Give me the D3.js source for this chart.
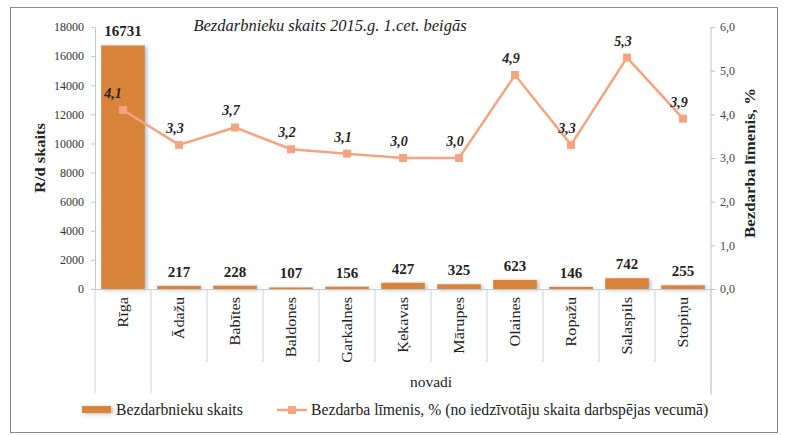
<!DOCTYPE html>
<html>
<head>
<meta charset="utf-8">
<script src="https://cdn.jsdelivr.net/npm/d3@7"></script>
<style>
  body { margin: 0; background: #fff; }
  text { font-family: "Liberation Serif", "Times New Roman", serif; }
</style>
</head>
<body>
<script>
const categories = ["Rīga", "Ādažu", "Babītes", "Baldones", "Garkalnes", "Ķekavas", "Mārupes", "Olaines", "Ropažu", "Salaspils", "Stopiņu"];
const unemployed = [16731, 217, 228, 107, 156, 427, 325, 623, 146, 742, 255];
const rate = [4.1, 3.3, 3.7, 3.2, 3.1, 3.0, 3.0, 4.9, 3.3, 5.3, 3.9];
const leftTicks = [0, 2000, 4000, 6000, 8000, 10000, 12000, 14000, 16000, 18000];
const rightTicks = [0, 1, 2, 3, 4, 5, 6];

const wSvg = 785, hSvg = 435;
const xLeft = 95, xRight = 711, yTop = 27, yBottom = 289;
const barColor = "#d9843a";
const lineColor = "#f4a47e";
const fmt = v => d3.format(".1f")(v).replace(".", ",");

let svg = d3.select("body").append("svg")
  .attr("width", wSvg)
  .attr("height", hSvg);

let defs = svg.append("defs");
let shadow = defs.append("filter").attr("id", "shadow")
  .attr("x", "-20%").attr("y", "-50%").attr("width", "150%").attr("height", "250%");
shadow.append("feDropShadow")
  .attr("dx", 2).attr("dy", 1).attr("stdDeviation", 2)
  .attr("flood-color", "#7f8fa0").attr("flood-opacity", 0.6);

// frame
svg.append("rect")
  .attr("x", 10.5).attr("y", 7.5)
  .attr("width", 767).attr("height", 425)
  .attr("fill", "#fff")
  .attr("stroke", "#8a8a8a");

let xScale = d3.scaleBand(categories, [xLeft, xRight]).paddingInner(0.22).paddingOuter(0.11);
let yScale = d3.scaleLinear([0, 18000], [yBottom, yTop]);
let y2Scale = d3.scaleLinear([0, 6], [yBottom, yTop]);
let step = xScale.step();

// title
svg.append("text")
  .attr("x", 330).attr("y", 31)
  .attr("text-anchor", "middle")
  .attr("font-size", "16.5px")
  .attr("font-style", "italic")
  .attr("fill", "#222")
  .text("Bezdarbnieku skaits 2015.g. 1.cet. beigās");

// left axis
let yAxis = svg.append("g")
  .attr("transform", `translate(${xLeft},0)`)
  .call(d3.axisLeft(yScale).tickValues(leftTicks).tickSize(4).tickPadding(7).tickFormat(d3.format("d")));
yAxis.select(".domain").attr("stroke", "#b9c9dc");
yAxis.selectAll(".tick line").attr("stroke", "#b9c9dc");
yAxis.selectAll(".tick text")
  .attr("font-family", "Liberation Serif, serif")
  .attr("font-size", "12px")
  .attr("fill", "#333");

// right axis
let y2Axis = svg.append("g")
  .attr("transform", `translate(${xRight},0)`)
  .call(d3.axisRight(y2Scale).tickValues(rightTicks).tickSize(4).tickPadding(5).tickFormat(fmt));
y2Axis.select(".domain").remove();
y2Axis.selectAll(".tick line").attr("stroke", "#bbb");
y2Axis.selectAll(".tick text")
  .attr("font-family", "Liberation Serif, serif")
  .attr("font-size", "12px")
  .attr("fill", "#444");
svg.append("line")
  .attr("x1", xRight).attr("x2", xRight)
  .attr("y1", yTop).attr("y2", 395)
  .attr("stroke", "#c4c4c4");

// axis titles
svg.append("text")
  .attr("transform", "translate(45,158) rotate(-90)")
  .attr("text-anchor", "middle")
  .attr("font-size", "14px")
  .attr("font-weight", "bold")
  .attr("fill", "#222")
  .attr("textLength", 70)
  .attr("lengthAdjust", "spacingAndGlyphs")
  .text("R/d skaits");
svg.append("text")
  .attr("transform", "translate(755,163) rotate(-90)")
  .attr("text-anchor", "middle")
  .attr("font-size", "14px")
  .attr("font-weight", "bold")
  .attr("fill", "#222")
  .attr("textLength", 150)
  .attr("lengthAdjust", "spacingAndGlyphs")
  .text("Bezdarba līmenis, %");

// category separators
let seps = d3.range(categories.length + 1).map(i => xLeft + i * step);
svg.selectAll(".sep")
  .data(seps)
  .enter()
  .append("line")
  .attr("class", "sep")
  .attr("x1", d => d).attr("x2", d => d)
  .attr("y1", yBottom)
  .attr("y2", (d, i) => (i <= 1 || i === categories.length) ? 393 : 362)
  .attr("stroke", "#c9d3de");

// bars
svg.selectAll(".bar")
  .data(unemployed)
  .enter()
  .append("rect")
  .attr("class", "bar")
  .attr("x", (d, i) => xScale(categories[i]))
  .attr("y", d => yScale(d))
  .attr("width", xScale.bandwidth())
  .attr("height", d => yBottom - yScale(d))
  .attr("fill", barColor)
  .attr("filter", "url(#shadow)");

// baseline
svg.append("line")
  .attr("x1", xLeft).attr("x2", xRight)
  .attr("y1", yBottom + 0.5).attr("y2", yBottom + 0.5)
  .attr("stroke", "#c9c9c9");

// bar labels
svg.selectAll(".barLabel")
  .data(unemployed)
  .enter()
  .append("text")
  .attr("class", "barLabel")
  .attr("x", (d, i) => xScale(categories[i]) + xScale.bandwidth() / 2)
  .attr("y", d => yScale(d) - 9)
  .attr("text-anchor", "middle")
  .attr("font-size", "15px")
  .attr("font-weight", "bold")
  .attr("fill", "#222")
  .text(d => d);

// line
let cx = i => xScale(categories[i]) + xScale.bandwidth() / 2;
let line = d3.line()
  .x((d, i) => cx(i))
  .y(d => y2Scale(d));
svg.append("path")
  .datum(rate)
  .attr("d", line)
  .attr("fill", "none")
  .attr("stroke", lineColor)
  .attr("stroke-width", 2.5);
svg.selectAll(".pt")
  .data(rate)
  .enter()
  .append("rect")
  .attr("class", "pt")
  .attr("x", (d, i) => cx(i) - 4)
  .attr("y", d => y2Scale(d) - 4)
  .attr("width", 8).attr("height", 8)
  .attr("fill", lineColor);
svg.selectAll(".ptLabel")
  .data(rate)
  .enter()
  .append("text")
  .attr("class", "ptLabel")
  .attr("x", (d, i) => cx(i) - (i === 0 ? 10 : 4))
  .attr("y", d => y2Scale(d) - 12)
  .attr("text-anchor", "middle")
  .attr("font-size", "14px")
  .attr("font-weight", "bold")
  .attr("font-style", "italic")
  .attr("fill", "#222")
  .text(fmt);

// category labels
svg.selectAll(".cat")
  .data(categories)
  .enter()
  .append("text")
  .attr("class", "cat")
  .attr("transform", d => `translate(${xScale(d) + xScale.bandwidth() / 2 + 5},297) rotate(-90) scale(1.08,1)`)
  .attr("text-anchor", "end")
  .attr("font-size", "15px")
  .attr("fill", "#222")
  .text(d => d);

svg.append("text")
  .attr("x", (xLeft + step + xRight) / 2).attr("y", 387)
  .attr("text-anchor", "middle")
  .attr("font-size", "15.5px")
  .attr("fill", "#222")
  .text("novadi");

// legend
let legend = svg.append("g").attr("transform", "translate(0,410)");
legend.append("rect")
  .attr("x", 82).attr("y", -4)
  .attr("width", 29).attr("height", 7)
  .attr("fill", barColor)
  .attr("filter", "url(#shadow)");
legend.append("text")
  .attr("x", 116).attr("y", 5)
  .attr("font-size", "15.7px")
  .attr("fill", "#222")
  .text("Bezdarbnieku skaits");
legend.append("line")
  .attr("x1", 277).attr("x2", 307)
  .attr("y1", 0).attr("y2", 0)
  .attr("stroke", lineColor).attr("stroke-width", 2.5);
legend.append("rect")
  .attr("x", 288).attr("y", -4)
  .attr("width", 8).attr("height", 8)
  .attr("fill", lineColor);
legend.append("text")
  .attr("x", 311).attr("y", 5)
  .attr("font-size", "15.7px")
  .attr("fill", "#222")
  .text("Bezdarba līmenis, % (no iedzīvotāju skaita darbspējas vecumā)");
</script>
</body>
</html>
